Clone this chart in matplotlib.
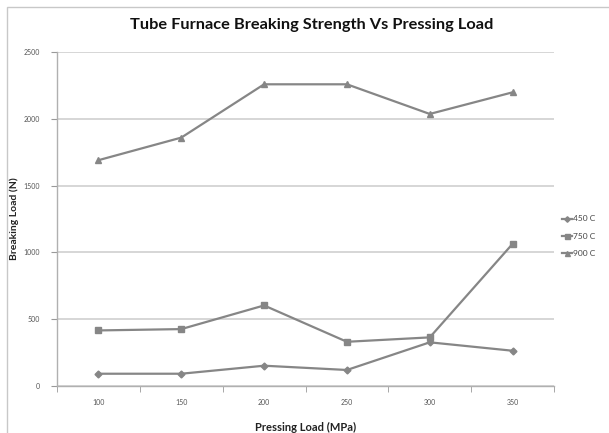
import matplotlib.pyplot as plt
from matplotlib.patches import Rectangle

# data
pressing_load = ["100", "150", "200", "250", "300", "350"]
load_450 = [92, 92, 152, 120, 327, 264]
load_750 = [416, 426, 603, 331, 364, 1064]
load_900 = [1690, 1859, 2258, 2258, 2036, 2198]
series_names = ["450 C", "750 C", "900 C"]

plt.rcParams['font.family'] = ['Lato', 'DejaVu Sans']

fig = plt.figure(figsize=(6.09, 4.33), dpi=100)
ax = fig.add_axes([0.0936, 0.1085, 0.8161, 0.7715])

line_col = '#868686'
grid_col = '#d0d0d0'
x = list(range(len(pressing_load)))

ax.plot(x, load_450, color=line_col, lw=1.6, marker='D', ms=3.5, label=series_names[0])
ax.plot(x, load_750, color=line_col, lw=1.6, marker='s', ms=4.5, label=series_names[1])
ax.plot(x, load_900, color=line_col, lw=1.6, marker='^', ms=4.5, label=series_names[2])

ax.set_xlim(-0.5, len(pressing_load) - 0.5)
ax.set_ylim(0, 2500)
ax.set_yticks(range(0, 2501, 500))
ax.set_xticks(x)
ax.set_xticklabels(pressing_load)
ax.set_xticks([i - 0.5 for i in range(len(pressing_load) + 1)], minor=True)
ax.tick_params(axis='x', which='major', length=0, pad=9, labelsize=5, labelcolor='#555555')
ax.tick_params(axis='x', which='minor', length=4, color='#999999', direction='out')
ax.tick_params(axis='y', length=4, color='#999999', pad=8, labelsize=5, labelcolor='#555555')

ax.grid(axis='y', color=grid_col, lw=1.2)
ax.set_axisbelow(True)
for side in ['top', 'right']:
    ax.spines[side].set_visible(False)
for side in ['left', 'bottom']:
    ax.spines[side].set_color('#b0b0b0')
    ax.spines[side].set_linewidth(1.0)

ax.set_xlabel("Pressing Load (MPa)", fontsize=8, fontweight='bold', color='#222222', labelpad=12)
ax.set_ylabel("Breaking Load (N)", fontsize=7.5, fontweight='bold', color='#222222')
ax.yaxis.set_label_coords(-0.076, 0.5)
fig.text(0.512, 0.942, "Tube Furnace Breaking Strength Vs Pressing Load",
         ha='center', va='center', fontsize=11.8, fontweight='bold', color='#111111')

ax.legend(loc='upper left', bbox_to_anchor=(1.0, 0.533), frameon=False, fontsize=6,
          handlelength=1.3, handletextpad=0.1, labelspacing=1.25, labelcolor='#444444',
          markerscale=0.8)

# chart area frame, running off the right and bottom edges
frame = Rectangle((0.07, -0.5), 7, 4.33 - 0.07 + 0.5, transform=fig.dpi_scale_trans,
                  fill=False, edgecolor='#c8c8c8', lw=1.0, clip_on=False)
fig.patches.append(frame)

fig.savefig("out.png", dpi=100)
